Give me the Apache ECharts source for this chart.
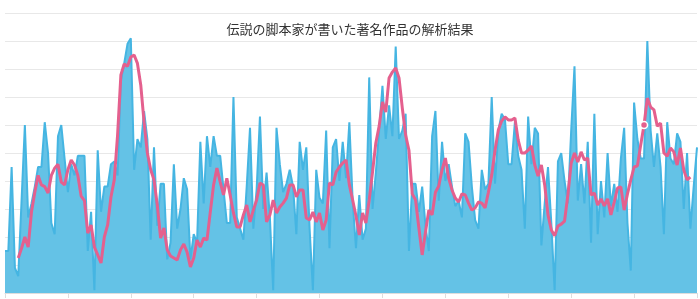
<!DOCTYPE html>
<html>
<head>
<meta charset="utf-8">
<script src="https://cdn.jsdelivr.net/npm/echarts@6/dist/echarts.min.js"></script>
<style>html,body{margin:0;padding:0;background:#fff;}#c{width:700px;height:299px;}</style>
</head>
<body>
<div id="c"></div>
<script>
const titleText = '伝説の脚本家が書いた著名作品の解析結果';

const rawValues = [
15,15,45,9,6,33,60,27,32,38,45,45,61,50,25,21,56,60,48,36,
46,42,49,49,49,15,29,1,51,29,38,38,46,47,42,76,82,89,91,44,
55,52,65,55,19,52,24,39,39,12,18,46,23,30,41,37,12,21,18,54,
32,56,45,56,49,49,37,25,25,70,27,23,19,38,59,23,37,63,30,43,
27,1,59,46,36,39,44,38,21,54,44,52,23,1,44,34,32,58,16,52,
55,40,54,41,61,33,16,35,19,23,77,30,43,58,74,55,67,56,88,55,
58,64,15,39,39,29,38,24,15,56,65,33,54,40,46,38,31,33,27,57,
54,38,26,23,44,37,39,70,39,58,64,62,46,46,61,49,44,23,63,46,
59,57,17,32,45,25,1,47,50,40,32,58,81,33,46,32,54,18,64,21,
40,27,50,31,39,29,48,59,25,8,68,55,48,48,90,58,45,57,45,21,
61,48,46,57,54,30,50,23,38,52
];

const trendValues = [
null,null,null,null,12.5,16,20,16.4,29,36,42,38.6,38,35.7,42,44.6,46,39.6,38.6,44,
47.5,45.7,42,34.6,33,21.4,24.3,16.4,13.6,10.7,20,24.3,34.3,40.4,56.4,77.9,81.8,81,84.3,85,
82,74.3,61,50,44,40.4,31.4,19.6,23.2,15.4,13.2,12.5,11.8,15.4,17.5,14.6,9.3,12.5,18.9,16.4,
19.6,18.9,28.9,38.6,44.6,39.6,35,41,35,28.6,23.6,23.6,27.9,31.4,25.4,29.6,33.2,39.3,38.6,25.4,
27.9,33.2,28.6,30.7,32.1,33.9,38.6,38.6,34.3,36.8,36.8,26.8,26.1,28.9,25.4,28.6,22.5,26.1,39.3,38.6,
43.2,45,46.4,47.5,38.6,33.2,27.5,20.7,28.6,25,33.2,43.2,53.6,59.6,68.2,64.6,76.8,78.9,80.4,76.8,
66,56.4,51,35.4,33.2,23.2,13.6,21.8,29.6,27.9,36,38.2,44,48.2,41,36.8,33.9,32.5,35.4,35,
32.1,29.6,30.4,32.5,32.1,30.4,36,42.1,51,58.2,61.4,62.9,61.8,61.8,62.5,54.6,50,50,51,52.5,
45.7,41.8,45.7,38.6,27.9,22.5,20.4,23.9,24.6,25.7,35,46.4,50,46.8,50.4,47.5,48.2,35,35.7,31.4,
33.6,31.1,33.6,27.9,32.5,37.5,37.9,29.6,35.4,40.4,45,45.4,52.9,60,69.6,66.4,65.4,59.6,60.7,50,
48.9,51.8,50.4,45.7,51.8,43.9,40.4,41.4,null,null
];

const markedIndex = 193;

const categories = rawValues.map((_, i) => String(i + 1));

const trendData = trendValues.map((v, i) => i === markedIndex ? {
  value: v, symbol: 'circle', symbolSize: 7,
  itemStyle: { color: '#e4608e', borderColor: '#ffffff', borderWidth: 1.5 }
} : v);

const chart = echarts.init(document.getElementById('c'), null, { renderer: 'canvas' });
chart.setOption({
  animation: false,
  backgroundColor: '#ffffff',
  title: {
    text: titleText,
    left: 'center',
    top: 18,
    textStyle: { fontSize: 13, fontWeight: 'normal', color: '#333333', fontFamily: 'Noto Sans CJK JP' }
  },
  grid: { left: 5, right: 3, top: 13, bottom: 6 },
  xAxis: {
    type: 'category',
    data: categories,
    boundaryGap: false,
    axisLine: { lineStyle: { color: '#dddddd', width: 1 } },
    axisTick: { interval: 18, length: 5, lineStyle: { color: '#dddddd' } },
    axisLabel: { show: false },
    splitLine: { show: false }
  },
  yAxis: {
    type: 'value',
    min: 0, max: 100, interval: 10,
    axisLine: { show: false },
    axisTick: { show: false },
    axisLabel: { show: false },
    splitLine: { lineStyle: { color: '#e8e8e8', width: 1 } }
  },
  series: [
    {
      type: 'line',
      data: rawValues,
      showSymbol: false,
      symbol: 'none',
      lineStyle: { color: '#45b5e2', width: 2 },
      areaStyle: { color: '#64c2e6', opacity: 1 },
      z: 2
    },
    {
      type: 'line',
      data: trendData,
      showSymbol: true,
      showAllSymbol: true,
      symbol: 'none',
      lineStyle: { color: '#e4608e', width: 3 },
      itemStyle: { color: '#e4608e' },
      z: 3
    }
  ]
});
</script>
</body>
</html>
